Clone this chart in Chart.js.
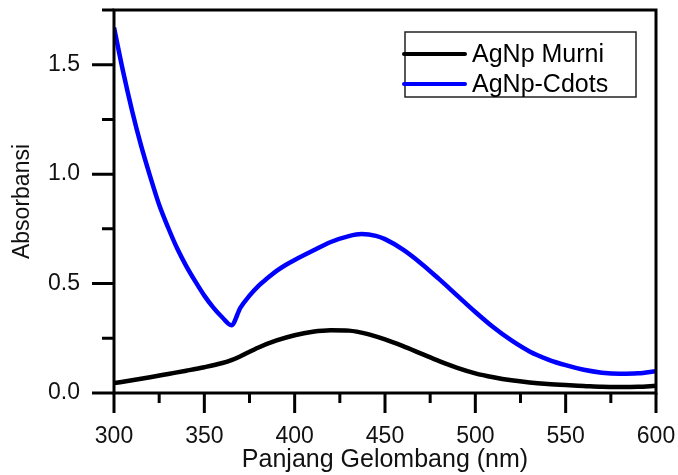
<!DOCTYPE html>
<html>
<head>
<meta charset="utf-8">
<script src="https://cdn.jsdelivr.net/npm/chart.js@4"></script>
<style>
  html, body { margin: 0; padding: 0; background: #fff; }
  #wrap { width: 678px; height: 475px; }
</style>
</head>
<body>
<div id="wrap"><canvas id="c" width="678" height="475"></canvas></div>
<script>
// ---- data ----
const murniX = [300, 310, 320, 330, 340, 350, 360, 365, 370, 380, 390, 400, 410, 420, 430, 440, 450, 460, 470, 480, 490, 500, 510, 520, 530, 540, 550, 560, 570, 580, 590, 600];
const murniY = [0.045, 0.058, 0.072, 0.087, 0.102, 0.118, 0.137, 0.150, 0.168, 0.208, 0.240, 0.264, 0.280, 0.287, 0.285, 0.270, 0.245, 0.214, 0.180, 0.146, 0.115, 0.090, 0.072, 0.058, 0.048, 0.041, 0.036, 0.032, 0.028, 0.027, 0.028, 0.033];

const cdotsX = [300, 305, 310, 315, 320, 325, 330, 335, 340, 345, 350, 355, 360, 365, 370, 375, 380, 385, 390, 395, 400, 410, 420, 430, 437, 445, 450, 460, 470, 480, 490, 500, 510, 520, 530, 540, 550, 560, 570, 580, 590, 600];
const cdotsY = [1.67, 1.47, 1.29, 1.13, 0.99, 0.86, 0.755, 0.66, 0.58, 0.51, 0.445, 0.39, 0.345, 0.31, 0.39, 0.445, 0.49, 0.525, 0.558, 0.585, 0.608, 0.650, 0.690, 0.717, 0.726, 0.718, 0.703, 0.655, 0.592, 0.520, 0.445, 0.370, 0.300, 0.240, 0.190, 0.154, 0.127, 0.106, 0.093, 0.088, 0.090, 0.100];

const seriesLabels = ['AgNp Murni', 'AgNp-Cdots'];
const xTicks = [300, 350, 400, 450, 500, 550, 600];
const xMinorTicks = [325, 375, 425, 475, 525, 575];
const yTicks = [0.0, 0.5, 1.0, 1.5];
const yMinorTicks = [0.25, 0.75, 1.25, 1.75];
const xTitle = 'Panjang Gelombang (nm)';
const yTitle = 'Absorbansi';

const FONT = '"Liberation Sans", Arial, sans-serif';

function pts(xs, ys) { return xs.map((x, i) => ({ x: x, y: ys[i] })); }

function noPad(s) { s.paddingLeft = 0; s.paddingRight = 0; s.paddingTop = 0; s.paddingBottom = 0; }

// frame, ticks, legend
const framePlugin = {
  id: 'frame',
  afterDraw(chart) {
    const ctx = chart.ctx;
    const a = chart.chartArea;
    const xs = chart.scales.x, ys = chart.scales.y;
    ctx.save();
    ctx.strokeStyle = '#000';
    ctx.lineWidth = 3;
    ctx.lineCap = 'butt';
    ctx.strokeRect(a.left, a.top, a.right - a.left, a.bottom - a.top);
    ctx.beginPath();
    xTicks.forEach(v => { const p = xs.getPixelForValue(v); ctx.moveTo(p, a.bottom); ctx.lineTo(p, a.bottom + 20); });
    xMinorTicks.forEach(v => { const p = xs.getPixelForValue(v); ctx.moveTo(p, a.bottom); ctx.lineTo(p, a.bottom + 10); });
    yTicks.forEach(v => { const p = ys.getPixelForValue(v); ctx.moveTo(a.left, p); ctx.lineTo(a.left - 22, p); });
    yMinorTicks.forEach(v => { const p = ys.getPixelForValue(v); ctx.moveTo(a.left, p); ctx.lineTo(a.left - 12, p); });
    ctx.stroke();

    // legend
    const bx = 405, by = 32, bw = 231, bh = 65;
    ctx.lineWidth = 1.5;
    ctx.strokeStyle = '#222';
    ctx.strokeRect(bx, by, bw, bh);
    ctx.font = '25px ' + FONT;
    ctx.textBaseline = 'middle';
    ctx.textAlign = 'left';
    ctx.fillStyle = '#000';
    const rows = [54, 84];
    chart.data.datasets.forEach((ds, i) => {
      ctx.beginPath();
      ctx.lineWidth = 4;
      ctx.lineCap = 'round';
      ctx.strokeStyle = ds.borderColor;
      ctx.moveTo(404, rows[i]);
      ctx.lineTo(465, rows[i]);
      ctx.stroke();
      ctx.fillText(ds.label, 472, rows[i] + 1);
    });
    ctx.restore();
  }
};

new Chart(document.getElementById('c'), {
  type: 'line',
  data: {
    datasets: [
      { label: seriesLabels[0], data: pts(murniX, murniY), borderColor: '#000000', borderWidth: 4.5, pointRadius: 0, cubicInterpolationMode: 'monotone', fill: false },
      { label: seriesLabels[1], data: pts(cdotsX, cdotsY), borderColor: '#0000ff', borderWidth: 4.5, pointRadius: 0, cubicInterpolationMode: 'monotone', fill: false }
    ]
  },
  options: {
    responsive: false,
    animation: false,
    devicePixelRatio: 1,
    layout: { padding: { top: 10, right: 22, left: 0, bottom: 0 } },
    plugins: { legend: { display: false }, tooltip: { enabled: false } },
    scales: {
      x: {
        type: 'linear', min: 300, max: 600,
        afterBuildTicks: s => { s.ticks = xTicks.map(v => ({ value: v })); },
        afterFit: s => { s.height = 82; noPad(s); },
        grid: { display: false, drawTicks: false },
        border: { display: false },
        ticks: { font: { size: 23, family: FONT }, color: '#111', padding: 30, maxRotation: 0, autoSkip: false, callback: v => String(v) },
        title: { display: true, text: xTitle, font: { size: 25, family: FONT }, color: '#111', padding: { top: 0, bottom: 0 } }
      },
      y: {
        min: 0, max: 1.75,
        afterBuildTicks: s => { s.ticks = yTicks.map(v => ({ value: v })); },
        afterFit: s => { s.width = 114; noPad(s); },
        grid: { display: false, drawTicks: false },
        border: { display: false },
        ticks: { font: { size: 23, family: FONT }, color: '#111', padding: 34, autoSkip: false, callback: v => Number(v).toFixed(1) },
        title: { display: true, text: yTitle, font: { size: 23, family: FONT }, color: '#111', padding: { top: 9, bottom: 0 } }
      }
    }
  },
  plugins: [framePlugin]
});
</script>
</body>
</html>
